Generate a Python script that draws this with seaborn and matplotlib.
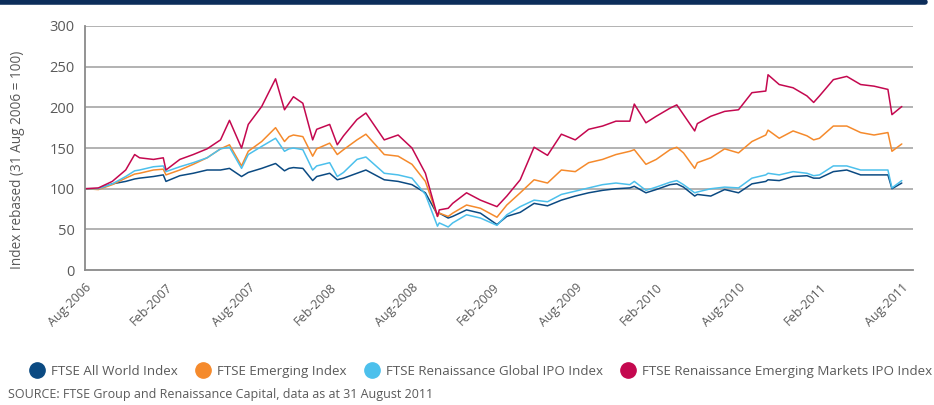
import pandas as pd
import matplotlib
matplotlib.use("Agg")
import matplotlib.pyplot as plt
from matplotlib.lines import Line2D
import seaborn as sns

# values (index, 31 Aug 2006 = 100)
dates = [
    "2006-08-31", "2006-09-30", "2006-10-31", "2006-11-30", "2006-12-20", "2006-12-31",
    "2007-01-31", "2007-02-22", "2007-02-28", "2007-03-31", "2007-04-30", "2007-05-31",
    "2007-06-30", "2007-07-20", "2007-08-16", "2007-08-31", "2007-09-30", "2007-10-31",
    "2007-11-20", "2007-11-30", "2007-12-10", "2007-12-31", "2008-01-22", "2008-01-31",
    "2008-02-29", "2008-03-17", "2008-03-31", "2008-04-30", "2008-05-20", "2008-06-30",
    "2008-07-31", "2008-08-31", "2008-09-30", "2008-10-27", "2008-10-31", "2008-11-20",
    "2008-11-30", "2008-12-31", "2009-01-31", "2009-03-09", "2009-03-31", "2009-04-30",
    "2009-05-31", "2009-06-30", "2009-07-31", "2009-08-31", "2009-09-30", "2009-10-31",
    "2009-11-30", "2009-12-31", "2010-01-10", "2010-02-05", "2010-02-28", "2010-03-31",
    "2010-04-15", "2010-04-30", "2010-05-25", "2010-05-31", "2010-06-30", "2010-07-31",
    "2010-08-31", "2010-09-30", "2010-10-31", "2010-11-05", "2010-11-30", "2010-12-31",
    "2011-01-31", "2011-02-15", "2011-02-28", "2011-03-31", "2011-04-30", "2011-05-31",
    "2011-06-30", "2011-07-31", "2011-08-09", "2011-08-31",
]

all_world = [
    100, 100, 106, 109, 112, 113,
    115, 117, 109, 116, 119, 123,
    123, 125, 115, 120, 125, 131,
    122, 125, 126, 125, 110, 115,
    119, 111, 113, 119, 123, 111,
    109, 105, 95, 68, 70, 64,
    66, 74, 70, 56, 66, 71,
    82, 79, 86, 91, 95, 98,
    100, 101, 103, 95, 99, 105,
    106, 102, 91, 93, 91, 99,
    95, 106, 109, 111, 110, 115,
    116, 113, 113, 121, 123, 117,
    117, 117, 100, 107,
]

emerging = [
    100, 99, 105, 113, 118, 119,
    123, 124, 117, 123, 130, 138,
    149, 154, 128, 146, 158, 175,
    158, 164, 166, 164, 140, 149,
    156, 142, 148, 160, 167, 142,
    140, 130, 109, 66, 70, 66,
    70, 80, 76, 65, 80, 95,
    111, 107, 123, 121, 132, 136,
    142, 146, 148, 130, 136, 148,
    151, 144, 125, 132, 138, 149,
    144, 158, 166, 172, 162, 171,
    165, 160, 162, 177, 177, 169,
    166, 169, 146, 155,
]

global_ipo = [
    100, 100, 106, 115, 122, 123,
    127, 128, 121, 127, 132, 138,
    149, 151, 125, 142, 152, 162,
    146, 149, 150, 148, 123, 128,
    132, 115, 120, 136, 139, 119,
    117, 113, 93, 54, 58, 53,
    58, 68, 64, 55, 68, 78,
    86, 84, 93, 97, 101, 105,
    107, 105, 109, 98, 102, 108,
    110, 105, 95, 96, 100, 102,
    101, 113, 117, 119, 117, 121,
    119, 116, 117, 128, 128, 123,
    123, 123, 101, 110,
]

em_ipo = [
    100, 101, 109, 123, 142, 138,
    136, 138, 123, 136, 142, 149,
    160, 184, 150, 179, 201, 235,
    197, 205, 213, 205, 160, 173,
    179, 154, 165, 185, 193, 160,
    166, 150, 119, 66, 74, 76,
    82, 95, 86, 78, 91, 111,
    151, 141, 167, 160, 173, 177,
    183, 183, 204, 181, 189, 199,
    203, 191, 171, 180, 189, 195,
    197, 218, 220, 240, 228, 224,
    214, 206, 214, 234, 238, 228,
    226, 222, 191, 201,
]

series_names = [
    "FTSE All World Index",
    "FTSE Emerging Index",
    "FTSE Renaissance Global IPO Index",
    "FTSE Renaissance Emerging Markets IPO Index",
]
colors = ["#0b4a82", "#f58a2c", "#4cc0ec", "#c4084f"]

tick_dates = ["2006-08-31", "2007-02-28", "2007-08-31", "2008-02-29", "2008-08-31",
              "2009-02-28", "2009-08-31", "2010-02-28", "2010-08-31", "2011-02-28",
              "2011-08-31"]
tick_labels = ["Aug-2006", "Feb-2007", "Aug-2007", "Feb-2008", "Aug-2008", "Feb-2009",
               "Aug-2009", "Feb-2010", "Aug-2010", "Feb-2011", "Aug-2011"]

frames = []
for name, vals in zip(series_names, [all_world, emerging, global_ipo, em_ipo]):
    frames.append(pd.DataFrame({"date": pd.to_datetime(dates), "value": vals, "index": name}))
df = pd.concat(frames, ignore_index=True)

sns.set_style("white")
plt.rcParams["font.family"] = ["Open Sans", "DejaVu Sans"]
text_grey = "#5a5a5a"
axis_grey = "#8a8a8a"

fig = plt.figure(figsize=(9.34, 4.05), dpi=100)
ax = fig.add_axes([0.091, 0.333, 0.886, 0.603])

# top banner line
fig.add_artist(Line2D([0, 0.99], [0.995, 0.995], color="#0c2d5a", lw=4,
                      transform=fig.transFigure))

for y in [50, 100, 150, 200, 250, 300]:
    ax.axhline(y, color="#adadad", lw=1.3, zorder=0)

sns.lineplot(data=df, x="date", y="value", hue="index", palette=colors,
             hue_order=series_names, linewidth=1.1, legend=False, ax=ax)

ax.set_ylim(0, 300)
ax.set_yticks([0, 50, 100, 150, 200, 250, 300])
ax.set_xlim(pd.Timestamp("2006-08-31"), pd.Timestamp("2011-09-24"))
ax.set_xticks(pd.to_datetime(tick_dates))
ax.set_xticklabels(tick_labels, rotation=45, ha="right", rotation_mode="anchor")
ax.tick_params(axis="both", colors=axis_grey, labelcolor=text_grey, labelsize=10.5,
               length=4, width=1.2, direction="out")
ax.tick_params(axis="x", labelsize=9)
ax.set_xlabel("")
ax.set_ylabel("Index rebased (31 Aug 2006 = 100)", color=text_grey, fontsize=9.8)
ax.yaxis.set_label_coords(-0.072, 0.45)
for side in ["top", "right"]:
    ax.spines[side].set_visible(False)
for side in ["left", "bottom"]:
    ax.spines[side].set_color(axis_grey)
    ax.spines[side].set_linewidth(1.3)

handles = [Line2D([], [], marker="o", linestyle="", markersize=11, color=c) for c in colors]
fig.legend(handles, series_names, loc="center left", bbox_to_anchor=(0.018, 0.083),
           ncol=4, frameon=False, fontsize=9.6, labelcolor=text_grey,
           handletextpad=0.45, columnspacing=1.3, handlelength=1.2)

fig.text(0.009, 0.018, "SOURCE: FTSE Group and Renaissance Capital, data as at 31 August 2011",
         color=text_grey, fontsize=9)

fig.savefig("out.png", dpi=100)
